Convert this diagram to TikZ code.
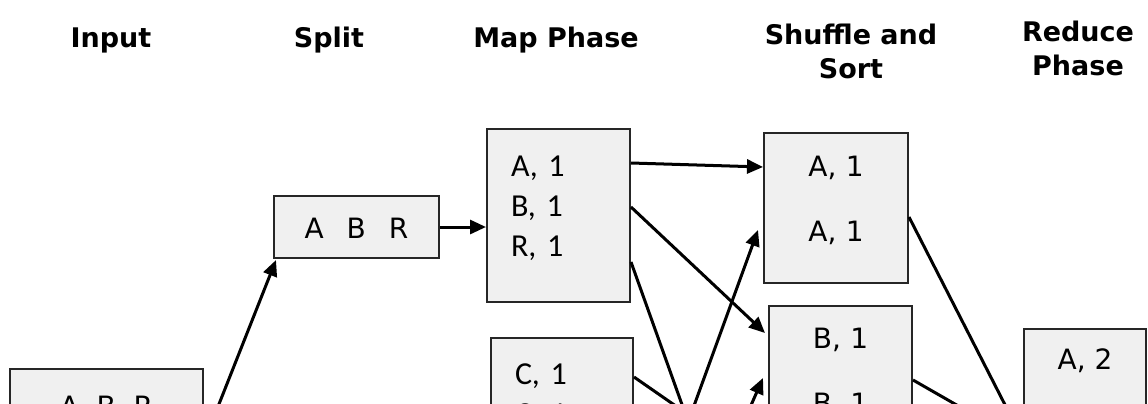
\documentclass[tikz,border=0pt]{standalone}
\usepackage{fontspec}
\setmainfont{DejaVu Sans}
\newfontfamily\carlito{Carlito}
\usetikzlibrary{arrows.meta,calc}

\begin{document}
\begin{tikzpicture}[
    x=0.5pt, y=-0.5pt,
    head/.style={
        font=\fontsize{13.5pt}{17pt}\selectfont\bfseries,
        align=center
    },
    box/.style={
        rectangle,
        draw=black!85,
        fill=black!6,
        line width=1pt,
        inner sep=0pt,
        anchor=north west,
        font=\fontsize{14pt}{17pt}\selectfont
    },
    mapbox/.style={
        box,
        inner xsep=12pt,
        align=left,
        font=\fontsize{16pt}{20pt}\selectfont\carlito
    },
    flow/.style={
        -{Triangle[length=8pt,width=7pt]},
        line width=1.5pt
    }
]
\useasboundingbox (0,0) rectangle (1148,403);
\clip (0,0) rectangle (1148,403);

% Headers
\node[head] (hin) at (111,40) {Input};
\node[head] (hsp) at (329,40) {Split};
\node[head] (hmap) at (556,40) {Map Phase};
\node[head] (hsh) at (851,51) {Shuffle and\\Sort};
\node[head] (hrd) at (1078,48) {Reduce\\Phase};

% Input and split
\node[box, minimum width=96.5pt, text height=23.5pt, text depth=60pt] (in) at (9,368) {A~~B~~R};
\node[box, minimum width=82.5pt, text height=21.25pt, text depth=9.75pt] (sp) at (273,195) {A \enspace B \enspace R};

% Map phase
\node[mapbox, text width=47.5pt, text height=23.5pt, text depth=63pt] (m1) at (486,128) {A, 1\\B, 1\\R, 1};
\node[mapbox, text width=47pt, text height=23pt, text depth=60pt] (m2) at (490,337) {C, 1\\C, 1};

% Shuffle and sort
\node[box, text width=72pt, align=center, text height=21.5pt, text depth=53.5pt] (sh1) at (763,132) {A, 1\\[15.5pt]A, 1};
\node[box, text width=71.5pt, align=center, text height=21pt, text depth=60pt] (sh2) at (768,305) {B, 1\\[15.5pt]B, 1};

% Reduce phase
\node[box, minimum width=61pt, text height=20pt, text depth=60pt] (rd) at (1023,328) {A, 2};

% Ends below the visible part
\coordinate (m3a) at (632,576);
\coordinate (m3b) at (632,676);
\coordinate (sh3a) at (768,645);
\coordinate (sh3b) at (768,470);

% Arrows
\draw[flow] ($(in.north east)+(0,74)$) -- ($(sp.south west)+(3,1)$);
\draw[flow] (sp.east) -- (sp.east -| m1.west);
\draw[flow] ($(m1.north east)+(0,35)$) -- ($(sh1.north west)+(0,35)$);
\draw[flow] ($(m1.north east)+(0,79)$) -- ($(sh2.north west)+(-3,28)$);
\draw[flow] ($(m1.north east)+(0,134)$) -- (sh3a);
\draw[flow] (m3a) -- ($(sh1.north west)+(-5,98)$);
\draw[flow] ($(m2.north east)+(0,40)$) -- (sh3b);
\draw[flow] (m3b) -- ($(sh2.north west)+(-5,73)$);
\draw[flow] ($(sh1.north east)+(0,85)$) -- ($(rd.north west)+(0,112)$);
\draw[flow] ($(sh2.north east)+(0,75)$) -- ($(rd.north west)+(0,115)$);

\end{tikzpicture}
\end{document}
